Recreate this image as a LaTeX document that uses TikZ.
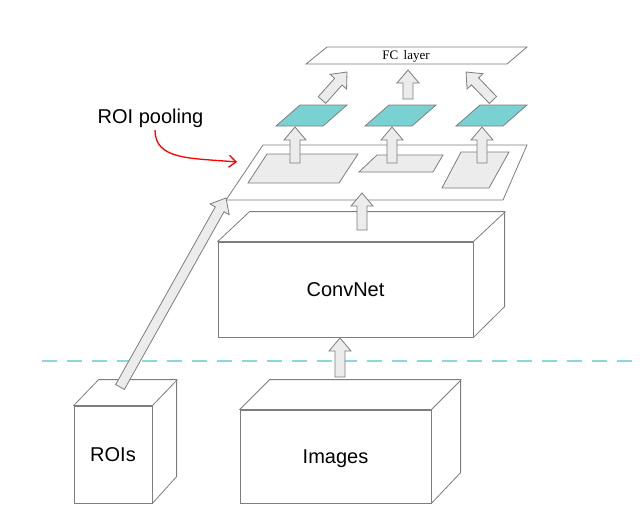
\documentclass[tikz,border=0pt]{standalone}
\usepackage{fontspec}
\newfontfamily\labelfont{Liberation Sans}
\newfontfamily\fcfont{Liberation Serif}
\usetikzlibrary{calc, arrows.meta}
\definecolor{poolteal}{RGB}{122,209,210}
\definecolor{dashteal}{RGB}{140,216,216}
\definecolor{regiongray}{RGB}{236,236,236}
\definecolor{edgegray}{RGB}{125,125,125}

\newcommand{\fatarrow}[2]{%
  \coordinate (fh) at ($(#2)!13pt!(#1)$);
  \draw[blockarrow] ($(#1)!5pt!90:(#2)$) -- ($(fh)!5pt!90:(#2)$) -- ($(fh)!11pt!90:(#2)$) -- (#2)
    -- ($(fh)!11pt!-90:(#2)$) -- ($(fh)!5pt!-90:(#2)$) -- ($(#1)!5pt!-90:(#2)$) -- cycle;}

\begin{document}
\begin{tikzpicture}[x=1pt,y=-1pt,
    front/.style={draw=edgegray,line width=0.8pt,fill=white,font=\labelfont\fontsize{20}{24}\selectfont,text height=14.3pt,text depth=0pt,inner sep=0pt},
    face/.style={draw=edgegray,line width=0.8pt,fill=white,line join=round},
    plate/.style={draw=edgegray,line width=0.8pt,fill=white},
    region/.style={draw=edgegray,line width=0.8pt,fill=regiongray},
    pooled/.style={draw=edgegray,line width=0.8pt,fill=poolteal},
    blockarrow/.style={draw=edgegray,line width=0.8pt,fill=regiongray,line join=miter},
    pointer/.style={draw=red,line width=1.3pt,-{Straight Barb[length=7pt,width=12pt]}}
  ]
    \useasboundingbox (0,0) rectangle (640,511);

    \draw[dashteal,line width=1.5pt,dash pattern=on 15pt off 10pt] (42,361) coordinate (sepl) -- (640,361) coordinate (sepr);

    \node[front,minimum width=255pt,minimum height=95pt] (convnet) at (345.5,289.5) {ConvNet};
    \draw[face] (convnet.north west) -- ++(32,-30) -- ++(255,0) -- ++(0,95) -- (convnet.south east) -- (convnet.north east) -- cycle;
    \draw[face] (convnet.north east) -- ++(32,-30);

    \node[front,minimum width=191pt,minimum height=93pt] (images) at (335.5,456.5) {Images};
    \draw[face] (images.north west) -- ++(30,-30) -- ++(191,0) -- ++(0,93) -- (images.south east) -- (images.north east) -- cycle;
    \draw[face] (images.north east) -- ++(30,-30);

    \node[front,minimum width=78pt,minimum height=97pt] (rois) at (113,454.5) {ROIs};
    \draw[face] (rois.north west) -- ++(25,-26) -- ++(78,0) -- ++(0,97) -- (rois.south east) -- (rois.north east) -- cycle;
    \draw[face] (rois.north east) -- ++(25,-26);

    \draw[plate] (226,200) -- (503,200) -- (527,145) -- (263,145) -- cycle;
    \draw[region] (248,183) -- (339,183) -- (358,154) -- (267,154) -- cycle;
    \draw[region] (359,172) -- (433,172) -- (443,155) -- (377,155) -- cycle;
    \draw[region] (442,188) -- (489,188) -- (509,152) -- (461,152) -- cycle;

    \foreach \x in {276,365,456}
      \draw[pooled] (\x,126) -- ++(47,0) -- ++(24,-21) -- ++(-47,0) -- cycle;

    \draw[plate] (306,64) -- (507,64) -- (527,47) -- (327,47) -- cycle;
    \node[font=\fcfont\fontsize{13}{15}\selectfont,inner sep=0pt] (fc) at (406,56) {FC~\,layer};

    \node[font=\labelfont\fontsize{20}{24}\selectfont,anchor=base,inner sep=0pt] (roilabel) at (150.5,123) {ROI pooling};

    \coordinate (imgtop) at (340,377);
    \coordinate (convin) at (340,338);
    \coordinate (convtop) at (362,230);
    \coordinate (featin) at (362,193);
    \coordinate (roitop) at (120,387);
    \coordinate (featcorner) at (226,198);
    \coordinate (poolstart) at (155,130);
    \coordinate (pooltip) at (237,162);

    \fatarrow{imgtop}{convin}
    \fatarrow{convtop}{featin}
    \fatarrow{roitop}{featcorner}

    \foreach \x in {295,392,482}{
      \coordinate (rin) at (\x,163);
      \coordinate (rout) at (\x,127);
      \fatarrow{rin}{rout}
    }

    \coordinate (pl) at (322,100); \coordinate (fcl) at (347,72);
    \coordinate (pm) at (408,99);  \coordinate (fcm) at (408,70);
    \coordinate (pr) at (493,100); \coordinate (fcr) at (466,72);
    \fatarrow{pl}{fcl}
    \fatarrow{pm}{fcm}
    \fatarrow{pr}{fcr}

    \draw[pointer] (poolstart) .. controls (155,160) and (190,158) .. (pooltip);
  \end{tikzpicture}
\end{document}
